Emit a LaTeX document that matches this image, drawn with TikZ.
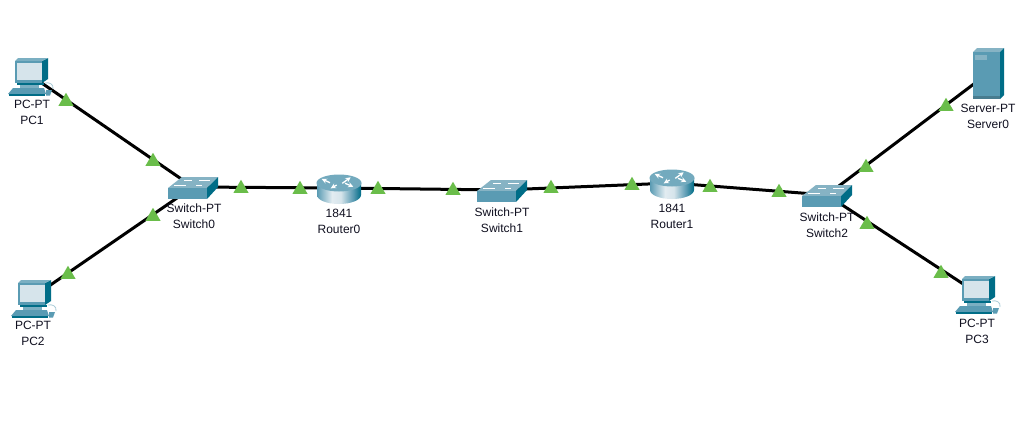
\documentclass[tikz,border=0pt]{standalone}
\usepackage{fontspec}
\setmainfont{Liberation Sans}
\usetikzlibrary{shapes.geometric}
\definecolor{cfront}{HTML}{5A9BB3}
\definecolor{ctop}{HTML}{86B3C4}
\definecolor{cdark}{HTML}{006D87}
\definecolor{cscreen}{HTML}{D6E4EB}
\definecolor{cgreen}{HTML}{6ABD4A}
\definecolor{ctext}{HTML}{101020}
\pgfdeclarehorizontalshading{routerbody}{100bp}{
 color(0bp)=(cfront); color(25bp)=(cfront); color(42bp)=(cscreen!70!white); color(52bp)=(cscreen); color(66bp)=(cfront); color(75bp)=(cdark); color(100bp)=(cdark)}
\tikzset{
 link/.style={line width=3pt,black},
 devlabel/.style={font=\fontsize{12}{16}\selectfont,align=center,text=ctext,inner sep=0pt},
 anchorpt/.style={coordinate},
 linkmark/.style={regular polygon,regular polygon sides=3,fill=cgreen,inner sep=0pt,minimum size=17.5pt,yshift=-1.5pt},
 pcicon/.pic={
  \fill[cdark] (12,-14)--(18,-17)--(18,4)--(12,8)--cycle;
  \fill[cfront!80!white] (-15,-14)--(-12,-17)--(18,-17)--(12,-14)--cycle;
  \fill[cfront] (-15,-14) rectangle (12,8);
  \fill[cscreen] (-13,-12) rectangle (11.5,5);
  \fill[cdark] (-13,8) rectangle (14,10);
  \fill[cfront!80!white] (-10,10) rectangle (9,13);
  \fill[cfront] (-17,13)--(14,13)--(16,19)--(-22,19)--cycle;
  \fill[cdark] (-21,19) rectangle (15,20.5);
  \fill[cfront] (16,15)--(22,15)--(20,20.5)--(16,20.5)--cycle;
  \draw[cfront!50!white,line width=.8pt] (15,8) .. controls (19,7) and (24,9) .. (23,14);
 },
 switchicon/.pic={
  \fill[ctop] (-25,1)--(-11,-10)--(25,-10)--(14,1)--cycle;
  \fill[cfront] (-25,1) rectangle (14,12);
  \fill[cdark] (14,1)--(25,-10)--(25,0)--(14,12)--cycle;
  \draw[white,line width=.8pt] (-9,-7)--(-1,-7) (6,-7)--(17,-7) (-19,-2)--(-7,-2) (3,-2)--(9,-2);
 },
 routericon/.pic={
  \shade[shading=routerbody] (-22,-5) -- (-22,7) arc[start angle=180,end angle=360,x radius=22,y radius=-9] -- (22,-5) -- cycle;
  \fill[cfront!85!white] (0,-5) ellipse[x radius=22.5,y radius=8.5];
  \draw[white,line width=1.3pt,-stealth] (-9,-5.3)--(-17.3,-9);
  \draw[white,line width=1.3pt,-stealth] (-2.3,-3)--(-8.3,0.3);
  \draw[white,line width=1.3pt,-stealth] (3.3,-4.7)--(11.7,-10.7);
  \draw[white,line width=1.3pt,-stealth] (6,-4.7)--(14.3,-1.3);
 },
 servericon/.pic={
  \fill[ctop] (-14,-22)--(-10,-26)--(17,-26)--(13,-22)--cycle;
  \fill[cfront] (-14,-22) rectangle (13,25);
  \fill[cdark] (13,-22)--(17,-26)--(17,21)--(13,25)--cycle;
  \fill[ctop] (-12,-19) rectangle (0,-14);
  \fill[cfront!80!black] (-14,22) rectangle (13,25);
 }
}
\begin{document}
\begin{tikzpicture}[x=1pt,y=-1pt]
\useasboundingbox[fill=white] (0,0) rectangle (1032,423);
% device positions
\node[anchorpt] (pc1) at (30,75) {};
\node[anchorpt] (pc2) at (33,297) {};
\node[anchorpt] (pc3) at (977,293) {};
\node[anchorpt] (server0) at (987,74) {};
\node[anchorpt] (switch0) at (193,187) {};
\node[anchorpt] (router0) at (339,188) {};
\node[anchorpt] (switch1) at (502,190) {};
\node[anchorpt] (router1) at (672,183) {};
\node[anchorpt] (switch2) at (827,195) {};
% links
\draw[link] (pc1) -- (switch0);
\draw[link] (pc2) -- (switch0);
\draw[link] (switch0) -- (router0);
\draw[link] (router0) -- (switch1);
\draw[link] (switch1) -- (router1);
\draw[link] (router1) -- (switch2);
\draw[link] (switch2) -- (server0);
\draw[link] (switch2) -- (pc3);
% icons
\pic at (pc1) {pcicon};
\pic at (pc2) {pcicon};
\pic at (pc3) {pcicon};
\pic at (server0) {servericon};
\pic at (switch0) {switchicon};
\pic at (switch1) {switchicon};
\pic at (switch2) {switchicon};
\pic at (router0) {routericon};
\pic at (router1) {routericon};
% labels
\node[devlabel] (lpc1) at (32,112) {PC-PT\\PC1};
\node[devlabel] (lpc2) at (33,333) {PC-PT\\PC2};
\node[devlabel] (lpc3) at (977,331) {PC-PT\\PC3};
\node[devlabel] (lserver0) at (988,116) {Server-PT\\Server0};
\node[devlabel] (lswitch0) at (194,216) {Switch-PT\\Switch0};
\node[devlabel] (lrouter0) at (339,221) {1841\\Router0};
\node[devlabel] (lswitch1) at (502,220) {Switch-PT\\Switch1};
\node[devlabel] (lrouter1) at (672,216) {1841\\Router1};
\node[devlabel] (lswitch2) at (827,225) {Switch-PT\\Switch2};
% link lights
\node[linkmark] (m1) at (66,100) {};
\node[linkmark] (m2) at (153,160) {};
\node[linkmark] (m3) at (153,215) {};
\node[linkmark] (m4) at (68,273) {};
\node[linkmark] (m5) at (241,187) {};
\node[linkmark] (m6) at (300,188) {};
\node[linkmark] (m7) at (378,188) {};
\node[linkmark] (m8) at (453,189) {};
\node[linkmark] (m9) at (551,187) {};
\node[linkmark] (m10) at (632,184) {};
\node[linkmark] (m11) at (710,186) {};
\node[linkmark] (m12) at (779,191) {};
\node[linkmark] (m13) at (866,166) {};
\node[linkmark] (m14) at (946,105) {};
\node[linkmark] (m15) at (867,223) {};
\node[linkmark] (m16) at (941,272) {};
\end{tikzpicture}
\end{document}
